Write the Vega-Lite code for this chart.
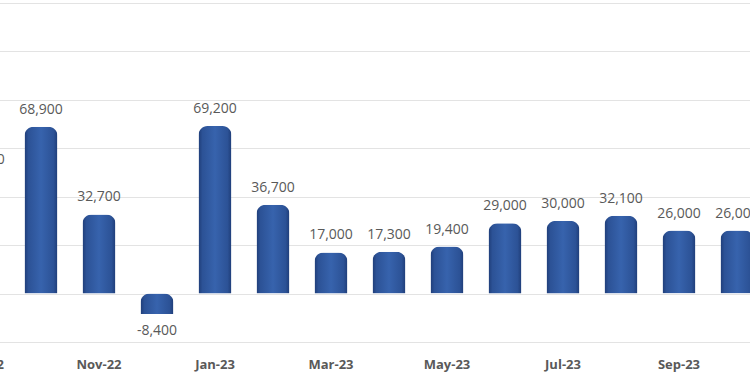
{
  "$schema": "https://vega.github.io/schema/vega-lite/v6.json",
  "width": 750,
  "height": 339,
  "autosize": {"type": "none"},
  "padding": {"top": 3, "left": 0, "right": 0, "bottom": 33},
  "background": "white",
  "config": {
    "view": {"stroke": null},
    "font": "Open Sans",
    "locale": {"number": {"decimal": ".", "thousands": ",", "grouping": [3], "currency": ["$", ""], "minus": "-"}}
  },
  "data": {
    "values": [
      {"month": "Sep-22", "value": 48000},
      {"month": "Oct-22", "value": 68900},
      {"month": "Nov-22", "value": 32700},
      {"month": "Dec-22", "value": -8400},
      {"month": "Jan-23", "value": 69200},
      {"month": "Feb-23", "value": 36700},
      {"month": "Mar-23", "value": 17000},
      {"month": "Apr-23", "value": 17300},
      {"month": "May-23", "value": 19400},
      {"month": "Jun-23", "value": 29000},
      {"month": "Jul-23", "value": 30000},
      {"month": "Aug-23", "value": 32100},
      {"month": "Sep-23", "value": 26000},
      {"month": "Oct-23", "value": 26000}
    ]
  },
  "encoding": {
    "x": {
      "field": "month",
      "type": "ordinal",
      "sort": null,
      "scale": {"range": [-46, 766], "paddingInner": 0, "paddingOuter": 0},
      "axis": {
        "title": null,
        "values": ["Sep-22", "Nov-22", "Jan-23", "Mar-23", "May-23", "Jul-23", "Sep-23"],
        "labelAngle": 0,
        "ticks": false,
        "domain": false,
        "grid": false,
        "labelPadding": 16,
        "labelFontSize": 13,
        "labelFontWeight": "bold",
        "labelColor": "#595959",
        "labelOverlap": false,
        "orient": "bottom"
      }
    },
    "y": {
      "field": "value",
      "type": "quantitative",
      "scale": {"domain": [-20000, 120000], "nice": false, "zero": true},
      "axis": {
        "title": null,
        "labels": false,
        "ticks": false,
        "domain": false,
        "grid": true,
        "gridColor": "#e3e3e3",
        "gridWidth": 1,
        "values": [-20000, 0, 20000, 40000, 60000, 80000, 100000, 120000]
      }
    }
  },
  "layer": [
    {
      "mark": {
        "type": "bar",
        "size": 33,
        "cornerRadiusEnd": 9,
        "color": {
          "gradient": "linear",
          "x1": 0, "x2": 1, "y1": 0, "y2": 0,
          "stops": [
            {"offset": 0, "color": "#1f3d78"},
            {"offset": 0.12, "color": "#2c5296"},
            {"offset": 0.5, "color": "#3763ad"},
            {"offset": 0.88, "color": "#2c5296"},
            {"offset": 1, "color": "#1f3d78"}
          ]
        }
      }
    },
    {
      "transform": [{"filter": "datum.value >= 0"}],
      "mark": {"type": "text", "dy": -17, "baseline": "middle", "fontSize": 14, "color": "#595959"},
      "encoding": {"text": {"field": "value", "type": "quantitative", "format": ","}}
    },
    {
      "transform": [{"filter": "datum.value < 0"}],
      "mark": {"type": "text", "dy": 17, "baseline": "middle", "fontSize": 14, "color": "#595959"},
      "encoding": {"text": {"field": "value", "type": "quantitative", "format": ","}}
    }
  ]
}
